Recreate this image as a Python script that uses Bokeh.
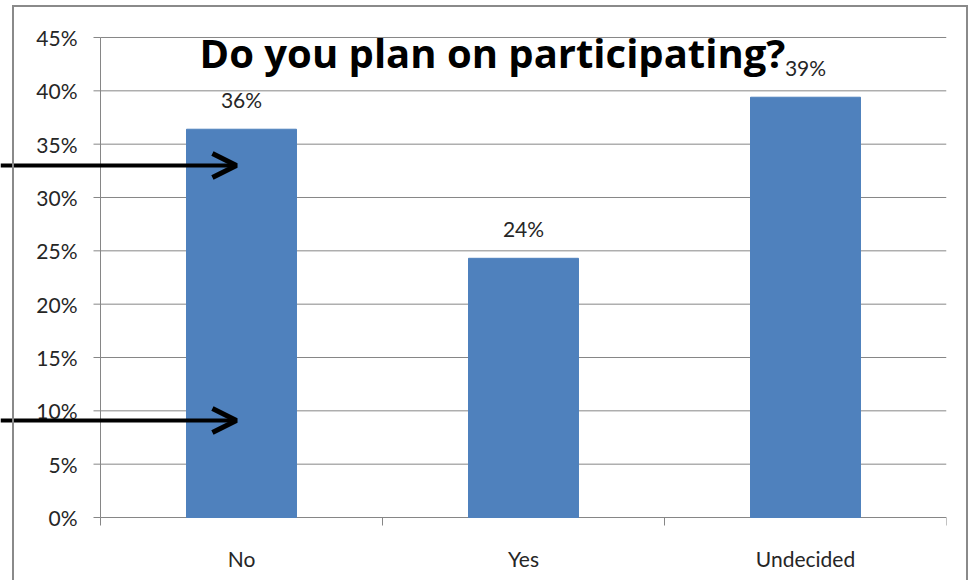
from bokeh.plotting import figure
from bokeh.models import (ColumnDataSource, LabelSet, Label, Arrow, OpenHead,
                          FixedTicker, InlineStyleSheet, Range1d)
from bokeh.core.properties import value
from bokeh.embed import file_html
from bokeh.resources import INLINE
import math

categories = ["No", "Yes", "Undecided"]
values = [0.364, 0.243, 0.394]
value_labels = ["36%", "24%", "39%"]
y_ticks = [0, 0.05, 0.10, 0.15, 0.20, 0.25, 0.30, 0.35, 0.40, 0.45]
y_tick_labels = ["0%", "5%", "10%", "15%", "20%", "25%", "30%", "35%", "40%", "45%"]
title_text = "Do you plan on participating?"
arrow_y = [0.330, 0.091]
arrow_x_end = 0.482

FONT = "Lato"
GRID = "#868686"
TXT = "#262626"

n = len(categories)
x_lo = -100 / 282          # room left of the category area for the y axis
y_lo = -16 / 1066.7        # room below zero so tick labels are not cut
y_hi = 0.45 + 11 / 1066.7  # room above the top tick
centers = [i + 0.5 for i in range(n)]
bounds = list(range(n + 1))
src = ColumnDataSource(dict(x=centers, val=values, lab=value_labels))
ysrc = ColumnDataSource(dict(y=y_ticks, lab=y_tick_labels,
                             x0=[0] * len(y_ticks), x1=[n] * len(y_ticks)))
bsrc = ColumnDataSource(dict(x=bounds, y=[0] * len(bounds)))

p = figure(x_range=Range1d(x_lo, n), y_range=Range1d(y_lo, y_hi), width=977, height=580,
           output_backend="svg", toolbar_location=None,
           min_border_left=0, min_border_right=31, min_border_top=26,
           min_border_bottom=47)
p.stylesheets = [InlineStyleSheet(css="""
:host { position: relative; }
:host::after { content: ""; position: absolute; left: 12px; top: 5px;
  width: 952px; height: 600px; border: 2px solid #8a8a8a;
  pointer-events: none; }
""")]
p.outline_line_color = None
p.background_fill_color = "white"
p.border_fill_color = "white"
p.yaxis.visible = False
p.ygrid.visible = False
p.xgrid.visible = False

# horizontal gridlines across the category area (the 0 line is the x axis)
p.segment(x0="x0", y0="y", x1="x1", y1="y", source=ysrc, line_color=GRID,
          line_width=1)
# y axis line, ticks and labels
p.segment(x0=[0], y0=[y_ticks[0]], x1=[0], y1=[y_ticks[-1]], line_color=GRID,
          line_width=1)
p.ray(x=0, y="y", length=7, length_units="screen", angle=math.pi, source=ysrc,
      line_color=GRID, line_width=1)
p.text(x=0, y="y", text="lab", source=ysrc, x_offset=-23, text_align="right",
       text_baseline="middle", text_font=value(FONT), text_font_size="21px",
       text_color=TXT)
# x axis boundary ticks
p.ray(x="x", y="y", length=8, length_units="screen", angle=-math.pi / 2,
      source=bsrc, line_color=GRID, line_width=1)

p.vbar(x="x", top="val", width=0.39, source=src, fill_color="#4F81BD",
       line_color="#4F81BD")

# category labels
lx = p.xaxis[0]
lx.ticker = FixedTicker(ticks=centers)
lx.major_label_overrides = {c: nm for c, nm in zip(centers, categories)}
lx.axis_line_color = None
lx.major_tick_line_color = None
lx.minor_tick_line_color = None
lx.major_label_text_font = FONT
lx.major_label_text_font_size = "21px"
lx.major_label_text_color = TXT
lx.major_label_standoff = 6

labels = LabelSet(x="x", y="val", text="lab", source=src, y_offset=17,
                  text_align="center", text_baseline="bottom",
                  text_font=value(FONT), text_font_size=value("21px"),
                  text_color=TXT)
p.add_layout(labels)

p.add_layout(Label(x=1.39, y=0.436, text=title_text, text_align="center",
                   text_baseline="alphabetic", text_font="Open Sans",
                   text_font_style="bold", text_font_size="40px",
                   text_color="black"))

for ay in arrow_y:
    p.add_layout(Arrow(x_start=x_lo, y_start=ay, x_end=arrow_x_end,
                       y_end=ay, line_width=4, line_color="black",
                       end=OpenHead(size=24, line_width=5, line_color="black")))

open("out.html", "w").write(file_html(p, INLINE))
